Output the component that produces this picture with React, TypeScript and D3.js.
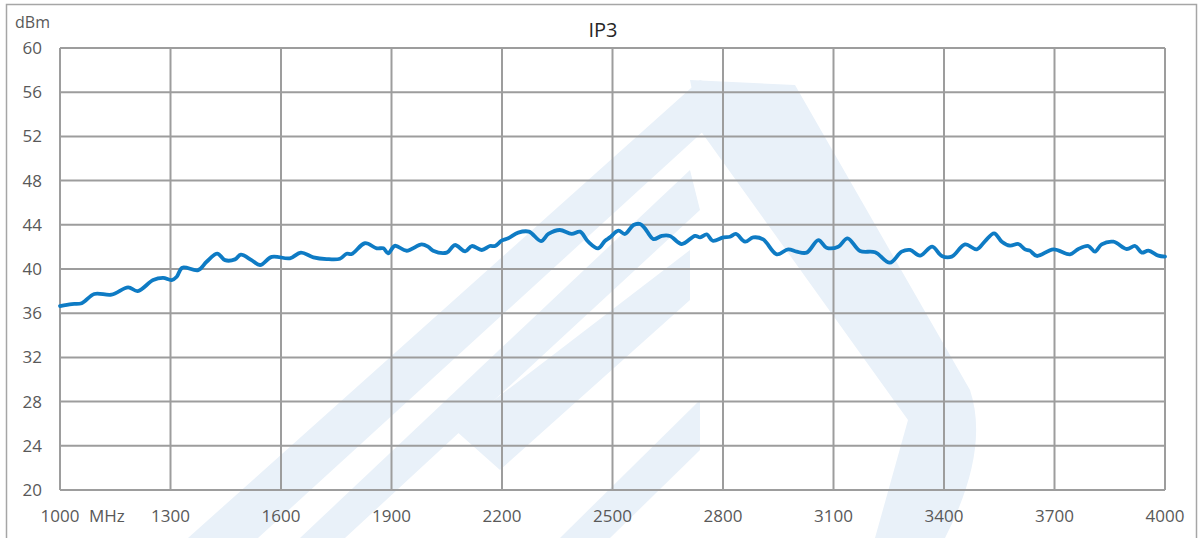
import React, {useRef, useEffect} from 'react';
import * as d3 from 'd3';

// frequency (MHz) and IP3 (dBm)
const freqs = [1000, 1032, 1059, 1093, 1140, 1185, 1211, 1253, 1280, 1303, 1317, 1332, 1375, 1398, 1427, 1448, 1475, 1491,
  1520, 1543, 1575, 1624, 1654, 1688, 1724, 1760, 1778, 1792, 1828, 1860, 1878, 1891, 1909, 1941, 1982, 2000,
  2013, 2050, 2072, 2100, 2118, 2145, 2167, 2181, 2199, 2217, 2244, 2273, 2306, 2326, 2357, 2389, 2412, 2434,
  2461, 2480, 2493, 2516, 2534, 2557, 2575, 2588, 2611, 2634, 2656, 2688, 2724, 2738, 2756, 2772, 2801, 2819,
  2835, 2860, 2882, 2909, 2946, 2977, 3000, 3027, 3059, 3081, 3113, 3138, 3172, 3213, 3253, 3285, 3308, 3335,
  3368, 3394, 3421, 3457, 3489, 3511, 3536, 3557, 3579, 3602, 3620, 3633, 3652, 3697, 3742, 3765, 3792, 3810,
  3828, 3860, 3896, 3919, 3937, 3955, 3982, 4000];
const ip3 = [36.65, 36.83, 36.9, 37.74, 37.68, 38.34, 38.0, 39.0, 39.19, 39.0, 39.3, 40.12, 39.9, 40.66, 41.4, 40.8, 40.87, 41.3,
  40.8, 40.36, 41.1, 40.97, 41.48, 41.06, 40.9, 40.93, 41.38, 41.36, 42.33, 41.87, 41.87, 41.42, 42.1, 41.65, 42.23, 42.0,
  41.65, 41.48, 42.17, 41.6, 42.08, 41.72, 42.08, 42.08, 42.56, 42.78, 43.29, 43.38, 42.53, 43.17, 43.53, 43.17, 43.38, 42.47,
  41.87, 42.56, 42.86, 43.47, 43.17, 43.98, 44.07, 43.68, 42.71, 43.0, 42.99, 42.26, 43.0, 42.86, 43.13, 42.56, 42.86, 42.92,
  43.17, 42.47, 42.86, 42.68, 41.33, 41.78, 41.57, 41.48, 42.62, 41.93, 42.02, 42.78, 41.63, 41.51, 40.57, 41.57, 41.72, 41.21,
  42.02, 41.18, 41.12, 42.23, 41.78, 42.5, 43.23, 42.47, 42.11, 42.26, 41.78, 41.66, 41.18, 41.78, 41.33, 41.81, 42.08, 41.57,
  42.23, 42.47, 41.81, 42.08, 41.48, 41.66, 41.21, 41.12];

const xTicks = [1000, 1300, 1600, 1900, 2200, 2500, 2800, 3100, 3400, 3700, 4000];
const yTicks = [20, 24, 28, 32, 36, 40, 44, 48, 52, 56, 60];

// faint logo in the background
const watermark = [
  'M 188 538 L 258 538 L 742 96 L 700 80 Z',
  'M 300 538 L 345 538 L 700 210 L 690 170 Z',
  'M 455 430 L 500 470 L 690 300 L 690 250 Z',
  'M 690 80 L 795 85 L 970 390 Q 990 450 945 538 L 875 538 L 908 420 L 700 130 Z',
  'M 560 538 L 610 538 L 700 450 L 700 400 Z',
];

export default function App(){
    const ref = useRef(null);
    const W = 1202, H = 538;
    const margin = {top: 48, right: 37, bottom: 48, left: 60};

    useEffect(() => {
        const svg = d3.select(ref.current);
        svg.selectAll('*').remove();
        const x = d3.scaleLinear().domain([1000, 4000]).range([margin.left, W - margin.right]);
        const y = d3.scaleLinear().domain([20, 60]).range([H - margin.bottom, margin.top]);
        const font = "'Open Sans', sans-serif";
        const grid = '#9d9d9d';

        svg.append('rect').attr('width', W).attr('height', H).attr('fill', '#fff');
        svg.append('rect')
            .attr('x', 6.5).attr('y', 4.5).attr('width', W - 12).attr('height', H + 10)
            .attr('fill', 'none').attr('stroke', '#a6a6a6').attr('stroke-width', 1.5);

        svg.append('g').selectAll('path').data(watermark).enter()
            .append('path').attr('d', d => d).attr('fill', '#e9f1f9');

        // grid
        svg.append('g').selectAll('line').data(yTicks).enter().append('line')
            .attr('x1', x(1000)).attr('x2', x(4000))
            .attr('y1', d => y(d)).attr('y2', d => y(d))
            .attr('stroke', grid).attr('stroke-width', 2);
        svg.append('g').selectAll('line').data(xTicks).enter().append('line')
            .attr('x1', d => x(d)).attr('x2', d => x(d))
            .attr('y1', y(20)).attr('y2', y(60))
            .attr('stroke', grid).attr('stroke-width', 2);

        // labels
        svg.append('g').selectAll('text').data(yTicks).enter().append('text')
            .attr('x', 42).attr('y', d => y(d) + 6)
            .attr('text-anchor', 'end').attr('font-family', font).attr('font-size', 17)
            .attr('fill', '#595959').text(d => d);
        svg.append('g').selectAll('text').data(xTicks).enter().append('text')
            .attr('x', d => x(d)).attr('y', 522)
            .attr('text-anchor', 'middle').attr('font-family', font).attr('font-size', 17)
            .attr('fill', '#595959').text(d => d);
        svg.append('text').attr('x', 89).attr('y', 522)
            .attr('font-family', font).attr('font-size', 17).attr('fill', '#595959').text('MHz');
        svg.append('text').attr('x', 15).attr('y', 28)
            .attr('font-family', font).attr('font-size', 16).attr('fill', '#595959').text('dBm');
        svg.append('text').attr('x', 603).attr('y', 37).attr('text-anchor', 'middle')
            .attr('font-family', font).attr('font-size', 20).attr('fill', '#262626').text('IP3');

        // curve
        const line = d3.line<number>()
            .x((d, i) => x(freqs[i]))
            .y(d => y(d))
            .curve(d3.curveCatmullRom.alpha(0.5));
        svg.append('path').attr('d', line(ip3))
            .attr('fill', 'none').attr('stroke', '#0e7bc4').attr('stroke-width', 3.8)
            .attr('stroke-linejoin', 'round').attr('stroke-linecap', 'round');
    }, []);

    return (
        <svg ref={ref} width={W} height={H} style={{position: 'absolute', left: 0, top: 0}}/>
    );
}
